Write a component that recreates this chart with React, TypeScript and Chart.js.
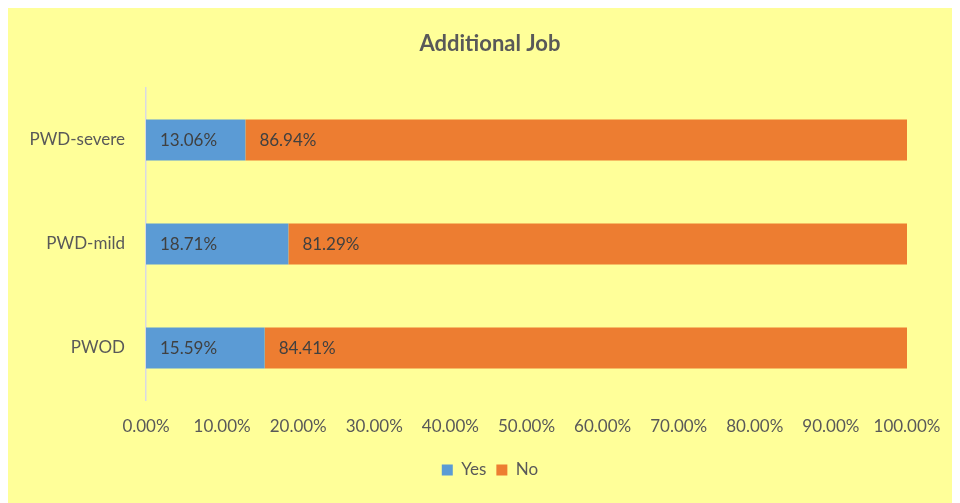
import React, { useEffect, useRef } from "react";
import { Chart, registerables } from "chart.js";

Chart.register(...registerables);

const categories = ["PWD-severe", "PWD-mild", "PWOD"];
const yesValues = [13.06, 18.71, 15.59];
const noValues = [86.94, 81.29, 84.41];
const seriesNames = ["Yes", "No"];
const xMin = 0;
const xMax = 100;
const xStep = 10;

const FONT = "Lato, 'Open Sans', sans-serif";

const dataLabelPlugin = {
  id: "dataLabels",
  afterDatasetsDraw(chart: any) {
    const ctx = chart.ctx;
    ctx.save();
    ctx.font = `17px ${FONT}`;
    ctx.fillStyle = "#404040";
    ctx.textAlign = "left";
    ctx.textBaseline = "middle";
    chart.data.datasets.forEach((ds: any, di: number) => {
      const meta = chart.getDatasetMeta(di);
      meta.data.forEach((bar: any, i: number) => {
        const v = ds.data[i];
        const props = bar.getProps(["x", "y", "base"], true);
        const left = Math.min(props.x, props.base);
        ctx.fillText(v.toFixed(2) + "%", left + 14, props.y + 1);
      });
    });
    ctx.restore();
  },
};

export default function App() {
  const ref = useRef<HTMLCanvasElement | null>(null);
  useEffect(() => {
    if (!ref.current) return;
    const chart = new Chart(ref.current, {
      type: "bar",
      data: {
        labels: categories,
        datasets: [
          {
            label: seriesNames[0],
            data: yesValues,
            backgroundColor: "#5B9BD5",
            borderWidth: 0,
            categoryPercentage: 1,
            barPercentage: 0.394,
          },
          {
            label: seriesNames[1],
            data: noValues,
            backgroundColor: "#ED7D31",
            borderWidth: 0,
            categoryPercentage: 1,
            barPercentage: 0.394,
          },
        ],
      },
      options: {
        indexAxis: "y",
        animation: false,
        responsive: false,
        maintainAspectRatio: false,
        layout: { padding: { left: 65, right: 67, top: 0, bottom: 14.5 } },
        scales: {
          x: {
            stacked: true,
            min: xMin,
            max: xMax,
            grid: { display: false, drawTicks: false },
            border: { display: false },
            ticks: {
              stepSize: xStep,
              padding: 16,
              color: "#595959",
              font: { family: FONT, size: 17 },
              callback: (v: any) => Number(v).toFixed(2) + "%",
            },
            afterFit: (scale: any) => {
              scale.height = 51.5;
            },
          },
          y: {
            stacked: true,
            grid: { display: false, drawTicks: false },
            border: { display: true, color: "#D9D9E3", width: 1.5 },
            ticks: {
              padding: 21,
              color: "#595959",
              font: { family: FONT, size: 17 },
            },
            afterFit: (scale: any) => {
              scale.width = 73;
            },
            afterUpdate: (scale: any) => {
              scale._computeLabelArea = () => undefined;
            },
          },
        },
        plugins: {
          title: {
            display: true,
            text: "Additional Job",
            color: "#595959",
            font: { family: FONT, size: 22, weight: "bold" },
            padding: { top: 23, bottom: 30.6 },
          },
          legend: {
            display: true,
            position: "bottom",
            labels: {
              boxWidth: 11,
              boxHeight: 11,
              padding: 10,
              color: "#595959",
              font: { family: FONT, size: 17 },
            },
          },
          tooltip: { enabled: false },
        },
      },
      plugins: [dataLabelPlugin],
    });
    return () => chart.destroy();
  }, []);

  return (
    <div style={{ width: 952, height: 495, overflow: "hidden", background: "#FFFF99" }}>
      <div style={{ width: 966, height: 495, position: "relative" }}>
        <canvas ref={ref} width={966} height={495} style={{ display: "block" }} />
      </div>
    </div>
  );
}
